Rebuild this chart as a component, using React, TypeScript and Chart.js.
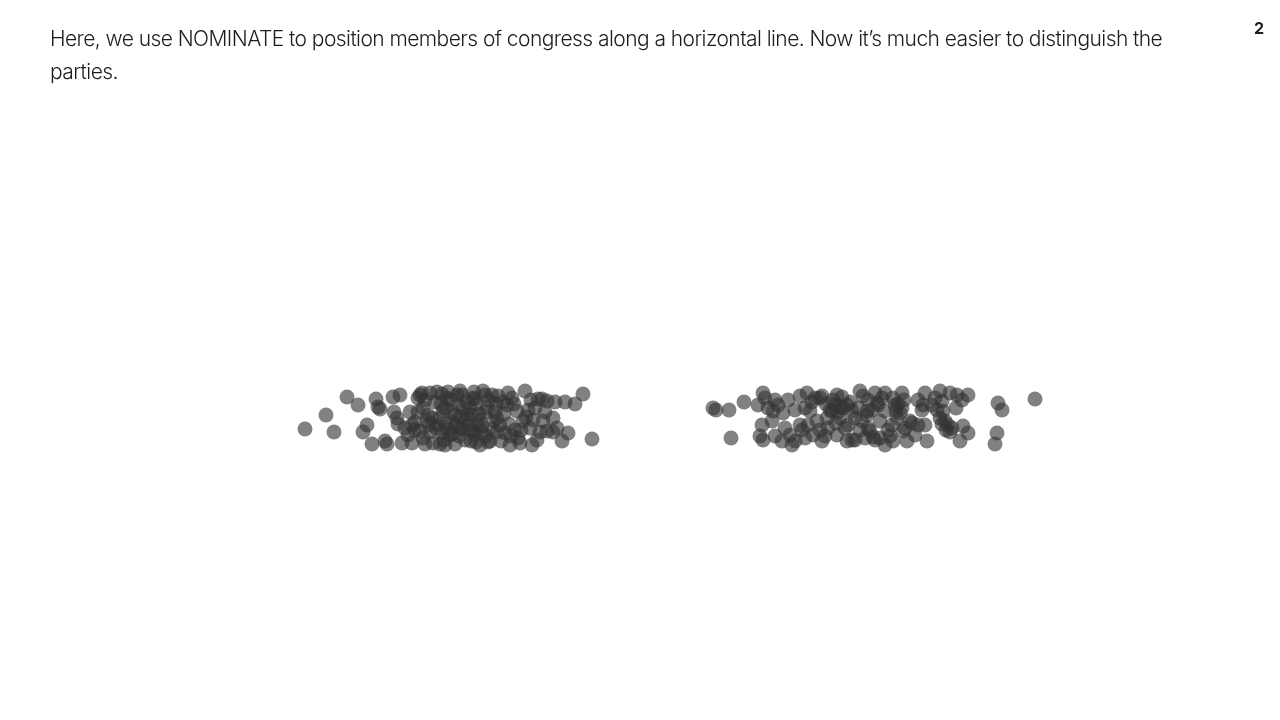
import React, { useEffect, useRef } from "react";
import { Chart, registerables } from "chart.js";

Chart.register(...registerables);

// Democrats (left cluster): first-dimension NOMINATE score and vertical jitter
const demNominate = [
  -0.670, -0.628, -0.612, -0.586, -0.564, -0.554, -0.546, -0.536, -0.528, -0.524,
  -0.520, -0.510, -0.506, -0.494, -0.492, -0.486, -0.480, -0.484, -0.470, -0.464,
  -0.476, -0.456, -0.460, -0.444, -0.436, -0.440, -0.450, -0.440, -0.434, -0.430,
  -0.434, -0.426, -0.420, -0.424, -0.414, -0.406, -0.410, -0.396, -0.400, -0.396,
  -0.394, -0.390, -0.388, -0.390, -0.384, -0.380, -0.376, -0.374, -0.370, -0.364,
  -0.360, -0.360, -0.356, -0.356, -0.350, -0.346, -0.346, -0.336, -0.334, -0.334,
  -0.330, -0.328, -0.324, -0.330, -0.320, -0.314, -0.310, -0.310, -0.306, -0.304,
  -0.300, -0.296, -0.296, -0.286, -0.284, -0.274, -0.266, -0.264, -0.260, -0.270,
  -0.246, -0.240, -0.234, -0.230, -0.220, -0.216, -0.210, -0.206, -0.204, -0.196,
  -0.194, -0.186, -0.186, -0.174, -0.170, -0.166, -0.174, -0.156, -0.150, -0.144,
  -0.130, -0.114, -0.096, -0.250, -0.280, -0.340, -0.370, -0.404, -0.420, -0.450,
  -0.290, -0.256, -0.224, -0.190, -0.380, -0.320, -0.244, -0.344, -0.400, -0.316,
  -0.430, -0.416, -0.408, -0.392, -0.386, -0.376, -0.368, -0.362, -0.354, -0.348,
  -0.340, -0.338, -0.328, -0.322, -0.316, -0.308, -0.302, -0.292, -0.286, -0.278,
  -0.272, -0.262, -0.258, -0.252, -0.238, -0.228, -0.422, -0.444, -0.456, -0.384,
  -0.366, -0.332, -0.288, -0.218, -0.200, -0.214, -0.398, -0.358,
];
const demJitter = [
  -0.40, 0.16, -0.52, 0.88, 0.56, -0.52, -0.24, -1.00, 0.80, 0.48,
  0.40, -0.88, -1.00, 0.88, 0.28, 0.04, 0.96, -0.20, -0.36, -0.64,
  -0.96, -0.96, 0.28, 0.84, 1.04, 0.96, -0.12, -0.48, -0.76, -1.00,
  0.44, -0.08, 1.04, 0.16, -0.96, 1.08, 0.68, 1.00, -1.00, -0.52,
  0.32, 0.44, -0.20, -1.04, 1.08, -0.64, -0.60, -0.12, -1.00, 0.56,
  1.12, -0.36, 0.96, -0.40, -0.84, 0.68, 0.16, 0.16, 0.84, -0.48,
  0.80, -0.92, -0.24, -0.64, -1.04, 1.12, 0.96, 0.28, 0.44, -0.92,
  -0.88, 0.96, -0.40, 0.04, 0.92, 0.68, 0.56, 1.04, -1.04, -0.56,
  0.32, -0.96, -0.08, 1.12, -0.36, -1.04, 0.44, -0.84, 0.80, 0.80,
  -0.08, 0.72, -0.48, 0.04, 0.68, -0.36, -0.52, -0.88, 0.68, -0.56,
  0.60, 1.00, -0.80, -0.44, -0.24, 0.44, 0.16, -0.24, -0.52, -0.44,
  0.28, 0.84, 0.36, 0.28, 0.76, -0.04, -0.76, -0.24, 0.04, -0.52,
  0.76, 0.04, -0.36, -0.84, 0.84, 0.28, -0.24, -0.68, 0.44, -0.04,
  -0.44, -0.88, 0.60, 0.20, -0.28, -0.68, 0.76, -0.08, -0.52, -0.88,
  0.20, -0.20, -0.68, 0.60, -0.44, 0.08, -0.24, 0.28, -0.24, -0.44,
  0.96, 1.08, 0.60, 0.76, -0.52, -0.04, 0.60, 0.08,
];

// Republicans (right cluster)
const repNominate = [
  0.146, 0.152, 0.178, 0.182, 0.208, 0.236, 0.246, 0.250, 0.256, 0.266,
  0.270, 0.286, 0.264, 0.244, 0.240, 0.246, 0.270, 0.284, 0.296, 0.300,
  0.310, 0.304, 0.320, 0.324, 0.334, 0.320, 0.330, 0.340, 0.350, 0.360,
  0.354, 0.346, 0.364, 0.376, 0.374, 0.384, 0.394, 0.400, 0.414, 0.424,
  0.410, 0.394, 0.424, 0.414, 0.446, 0.454, 0.456, 0.440, 0.470, 0.490,
  0.524, 0.570, 0.600, 0.620, 0.634, 0.656, 0.644, 0.716, 0.724, 0.790,
  0.714, 0.710, 0.656, 0.640, 0.646, 0.624, 0.610, 0.606, 0.594, 0.604,
  0.566, 0.564, 0.574, 0.570, 0.556, 0.550, 0.534, 0.524, 0.520, 0.514,
  0.540, 0.526, 0.506, 0.490, 0.470, 0.460, 0.454, 0.474, 0.490, 0.480,
  0.504, 0.506, 0.444, 0.364, 0.380, 0.390, 0.400, 0.416, 0.430, 0.440,
  0.464, 0.476, 0.480, 0.396, 0.406, 0.544, 0.616, 0.584, 0.496, 0.430,
  0.360, 0.330, 0.510, 0.466, 0.620, 0.290,
  0.372, 0.386, 0.404, 0.420, 0.392, 0.370, 0.516, 0.528, 0.512, 0.604,
  0.612, 0.600, 0.590, 0.484, 0.456, 0.436, 0.450, 0.500, 0.556, 0.336,
  0.310, 0.276, 0.632, 0.530, 0.344,
];
const repJitter = [
  0.44, 0.36, 0.36, -0.76, 0.68, 0.56, 1.04, 0.84, 0.44, 0.32,
  0.76, 0.24, -0.08, -0.24, -0.68, -0.84, -0.68, -0.88, 0.76, -0.64,
  -0.88, -1.04, -0.24, -0.44, 1.04, 0.92, 0.44, 0.32, 0.84, 0.84,
  -0.08, -0.64, -0.88, -0.36, 0.04, 0.32, 0.96, 0.52, 0.56, 0.32,
  -0.36, -0.64, -0.84, -0.88, 0.92, 0.32, -0.36, 1.12, 1.04, 1.04,
  1.04, 1.04, 1.12, 1.04, 0.96, 0.96, 0.76, 0.64, 0.36, 0.80,
  -0.56, -1.00, -0.56, -0.88, -0.28, -0.36, -0.08, 0.32, 0.36, 0.72,
  0.56, 0.36, -0.88, -0.24, -0.24, -0.64, -0.88, 0.44, 0.24, 0.04,
  -0.08, -0.48, -0.88, -1.04, -0.84, -0.48, 0.16, 0.64, 0.32, -0.08,
  -0.24, 0.84, -0.08, 0.92, 0.36, 0.56, 0.04, -0.24, -0.84, -0.44,
  0.36, 0.56, -0.76, 0.28, 0.44, -0.16, -0.24, 0.56, -0.44, 0.04,
  -0.44, -0.76, 0.56, -0.72, -0.52, -0.36,
  0.60, 0.76, 0.88, 0.68, -0.16, -0.68, 0.60, 0.76, 0.32, -0.20,
  -0.44, 0.04, 0.84, 0.84, 0.76, 0.44, -0.76, -0.68, 0.76, -0.24,
  0.36, 0.56, 0.44, -0.36, 0.68,
];

const caption =
  "Here, we use NOMINATE to position members of congress along a horizontal line. Now it\u2019s much easier to distinguish the parties.";
const pageNumber = "2";

const pointColor = "rgba(51, 51, 51, 0.62)";

function toPoints(xs: number[], ys: number[]) {
  return xs.map((x, i) => ({ x, y: ys[i] }));
}

export default function App() {
  const canvasRef = useRef<HTMLCanvasElement | null>(null);

  useEffect(() => {
    if (!canvasRef.current) return;
    const chart = new Chart(canvasRef.current, {
      type: "scatter",
      data: {
        datasets: [
          {
            label: "Democrats",
            data: toPoints(demNominate, demJitter),
            backgroundColor: pointColor,
            borderWidth: 0,
            pointRadius: 7.5,
            pointHoverRadius: 7.5,
          },
          {
            label: "Republicans",
            data: toPoints(repNominate, repJitter),
            backgroundColor: pointColor,
            borderWidth: 0,
            pointRadius: 7.5,
            pointHoverRadius: 7.5,
          },
        ],
      },
      options: {
        animation: false,
        responsive: true,
        maintainAspectRatio: false,
        layout: { padding: 0, autoPadding: false },
        plugins: {
          legend: { display: false },
          tooltip: { enabled: false },
          title: { display: false },
        },
        scales: {
          x: { type: "linear", min: -1.28, max: 1.28, display: false },
          y: { type: "linear", min: -12.04, max: 16.76, display: false },
        },
      },
    });
    return () => chart.destroy();
  }, []);

  return (
    <div
      style={{
        position: "fixed",
        left: 0,
        top: 0,
        width: 1280,
        height: 720,
        background: "#ffffff",
        overflow: "hidden",
      }}
    >
      <div style={{ position: "absolute", left: 0, top: 0, width: 1280, height: 720 }}>
        <canvas ref={canvasRef} />
      </div>
      <div
        style={{
          position: "absolute",
          left: 50,
          top: 22,
          width: 1140,
          fontFamily: "Inter, 'Noto Sans', sans-serif",
          fontWeight: 300,
          fontSize: 21,
          letterSpacing: "-0.56px",
          lineHeight: "33px",
          color: "#1d1d1f",
        }}
      >
        {caption}
      </div>
      <div
        style={{
          position: "absolute",
          right: 16,
          top: 18,
          fontFamily: "Inter, 'Noto Sans', sans-serif",
          fontWeight: 700,
          fontSize: 16,
          color: "#1d1d1f",
        }}
      >
        {pageNumber}
      </div>
    </div>
  );
}
